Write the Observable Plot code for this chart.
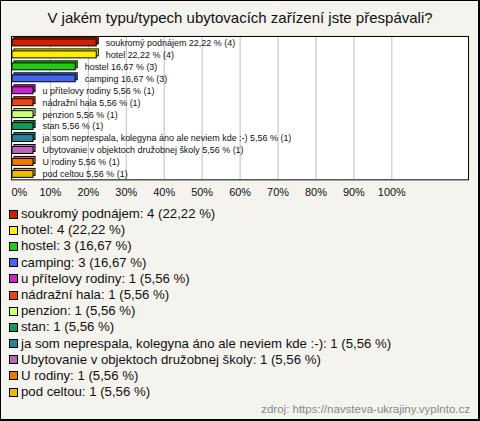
<!DOCTYPE html>
<html>
<head>
<meta charset="utf-8">
<script src="https://cdn.jsdelivr.net/npm/d3@7"></script>
<script src="https://cdn.jsdelivr.net/npm/@observablehq/plot@0.6"></script>
<style>
  html, body { margin: 0; padding: 0; background: #fff; }
  #card {
    position: relative; box-sizing: border-box; width: 480px; height: 421px;
    background: #f4f3ed; border-top: 1px solid #000; border-left: 1px solid #000;
    border-right: 2px solid #000; border-bottom: 2px solid #000;
    font-family: "Liberation Sans", Arial, sans-serif; color: #111; overflow: hidden;
  }
  #title { position: absolute; left: 0; width: 478px; top: 8px; text-align: center; font-size: 15px; }
  #plot { position: absolute; left: -1px; top: 27px; }
  #legend { position: absolute; left: 8px; top: 205px; font-size: 13.2px; }
  .row { height: 16.2px; line-height: 16.2px; white-space: nowrap; display: flex; align-items: center; }
  .sw { width: 7px; height: 7px; border: 1px solid #000; margin-right: 3px; flex: none; }
  #source { position: absolute; right: 8px; top: 402px; font-size: 11.5px; color: #888; }
</style>
</head>
<body>
<div id="card">
  <div id="title"></div>
  <div id="plot"></div>
  <div id="legend"></div>
  <div id="source"></div>
</div>
<script>
const titleText = "V jakém typu/typech ubytovacích zařízení jste přespávali?";
const sourceText = "zdroj: https://navsteva-ukrajiny.vyplnto.cz";
const categories = [
  "soukromý podnájem", "hotel", "hostel", "camping", "u přítelovy rodiny",
  "nádražní hala", "penzion", "stan",
  "ja som neprespala, kolegyna áno ale neviem kde :-)",
  "Ubytovanie v objektoch družobnej školy", "U rodiny", "pod celtou"
];
const counts = [4, 4, 3, 3, 1, 1, 1, 1, 1, 1, 1, 1];
const percents = [22.22, 22.22, 16.67, 16.67, 5.56, 5.56, 5.56, 5.56, 5.56, 5.56, 5.56, 5.56];
const colors = [
  "#cc2200", "#ffee00", "#22cc11", "#4466ee", "#cc22cc", "#ee4411",
  "#ccff77", "#119955", "#228899", "#bb66bb", "#ee7700", "#eebb00"
];
const xTicks = [0, 10, 20, 30, 40, 50, 60, 70, 80, 90, 100];

const fmt = v => v.toFixed(2).replace(".", ",");
const data = categories.map((c, i) => ({ name: c, count: counts[i], pct: percents[i] }));

document.getElementById("title").textContent = titleText;
document.getElementById("source").textContent = sourceText;

const chart = Plot.plot({
  width: 480, height: 173,
  marginLeft: 11, marginRight: 10, marginTop: 8, marginBottom: 21,
  style: { background: "transparent", fontFamily: "Liberation Sans, Arial, sans-serif" },
  x: { domain: [0, 100], range: [12, 393], axis: null },
  y: { domain: categories, axis: null, paddingInner: 0.45, paddingOuter: 0.22 },
  color: { domain: categories, range: colors },
  marks: [
    Plot.frame({ fill: "#fff" }),
    Plot.ruleX(xTicks.filter(d => d > 0), { stroke: "#bdbdbd" }),
    Plot.frame({ stroke: "#000" }),
    Plot.barX(data, { y: "name", x: "pct", fill: "name", stroke: "#000", strokeWidth: 1, dx: 2, dy: -2 }),
    Plot.barX(data, { y: "name", x: "pct", fill: "name", stroke: "#000", strokeWidth: 1 }),
    Plot.text(data, {
      y: "name", x: "pct", dx: 9, textAnchor: "start", fontSize: 9, fill: "#111",
      text: d => `${d.name} ${fmt(d.pct)} % (${d.count})`
    }),
    Plot.text(xTicks.filter(d => d > 0), {
      x: d => d, frameAnchor: "bottom", dy: 16, fontSize: 11, fill: "#111", text: d => d + "%"
    }),
    Plot.text([0], {
      x: d => d, frameAnchor: "bottom", dy: 16, dx: -1, textAnchor: "start", fontSize: 11, fill: "#111", text: d => d + "%"
    })
  ]
});
document.getElementById("plot").appendChild(chart);

const legend = document.getElementById("legend");
data.forEach((d, i) => {
  const row = document.createElement("div");
  row.className = "row";
  const sw = document.createElement("span");
  sw.className = "sw";
  sw.style.background = colors[i];
  const label = document.createElement("span");
  label.textContent = `${d.name}: ${d.count} (${fmt(d.pct)} %)`;
  row.appendChild(sw);
  row.appendChild(label);
  legend.appendChild(row);
});
</script>
</body>
</html>
